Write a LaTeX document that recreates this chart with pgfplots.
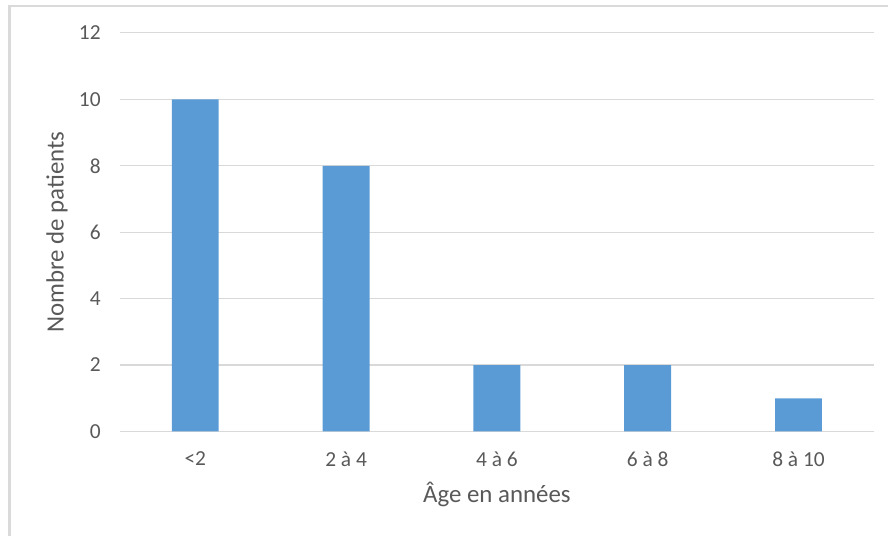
\documentclass[border=0pt]{standalone}
\usepackage{pgfplots}
\pgfplotsset{compat=1.18}
\usepackage{fontspec}
\setmainfont{Carlito}
\definecolor{barblue}{HTML}{5B9BD5}
\definecolor{txt}{HTML}{595959}
\definecolor{gridc}{HTML}{D9D9D9}
\definecolor{frame}{HTML}{DADADA}
\begin{document}
\begin{tikzpicture}[x=1bp,y=1bp]
\path (0,0) rectangle (889,537);
\draw[frame, line width=2.2bp] (9.5,0) -- (9.5,531) -- (889,531);
\begin{axis}[
  at={(120bp,105bp)}, anchor=south west,
  scale only axis, width=755bp, height=399bp,
  xmin=-0.5, xmax=4.5, ymin=0, ymax=12,
  ytick={0,2,...,12},
  xtick={0,1,2,3,4},
  xticklabels={{<2},{2 à 4},{4 à 6},{6 à 8},{8 à 10}},
  axis line style={draw=none},
  major tick length=0pt,
  ymajorgrids, grid style={gridc, line width=1.1bp},
  /pgf/number format/assume math mode=true,
  tick label style={font=\fontsize{21.5}{25}\selectfont, text=txt},
  yticklabel style={anchor=east, inner sep=0pt, xshift=-19bp},
  xticklabel style={anchor=north, inner sep=0pt, yshift=-20bp},
  label style={font=\fontsize{25}{29}\selectfont, text=txt},
  xlabel={Âge en années},
  ylabel={Nombre de patients},
  xlabel style={at={(axis description cs:0.5,-0.158)}, anchor=center},
  ylabel style={at={(axis description cs:-0.0834,0.5)}, anchor=center},
  clip=false,
]
\addplot[ybar, bar width=47bp, fill=barblue, draw=none] coordinates {(0,10) (1,8) (2,2) (3,2) (4,1)};
\end{axis}
\end{tikzpicture}
\end{document}
